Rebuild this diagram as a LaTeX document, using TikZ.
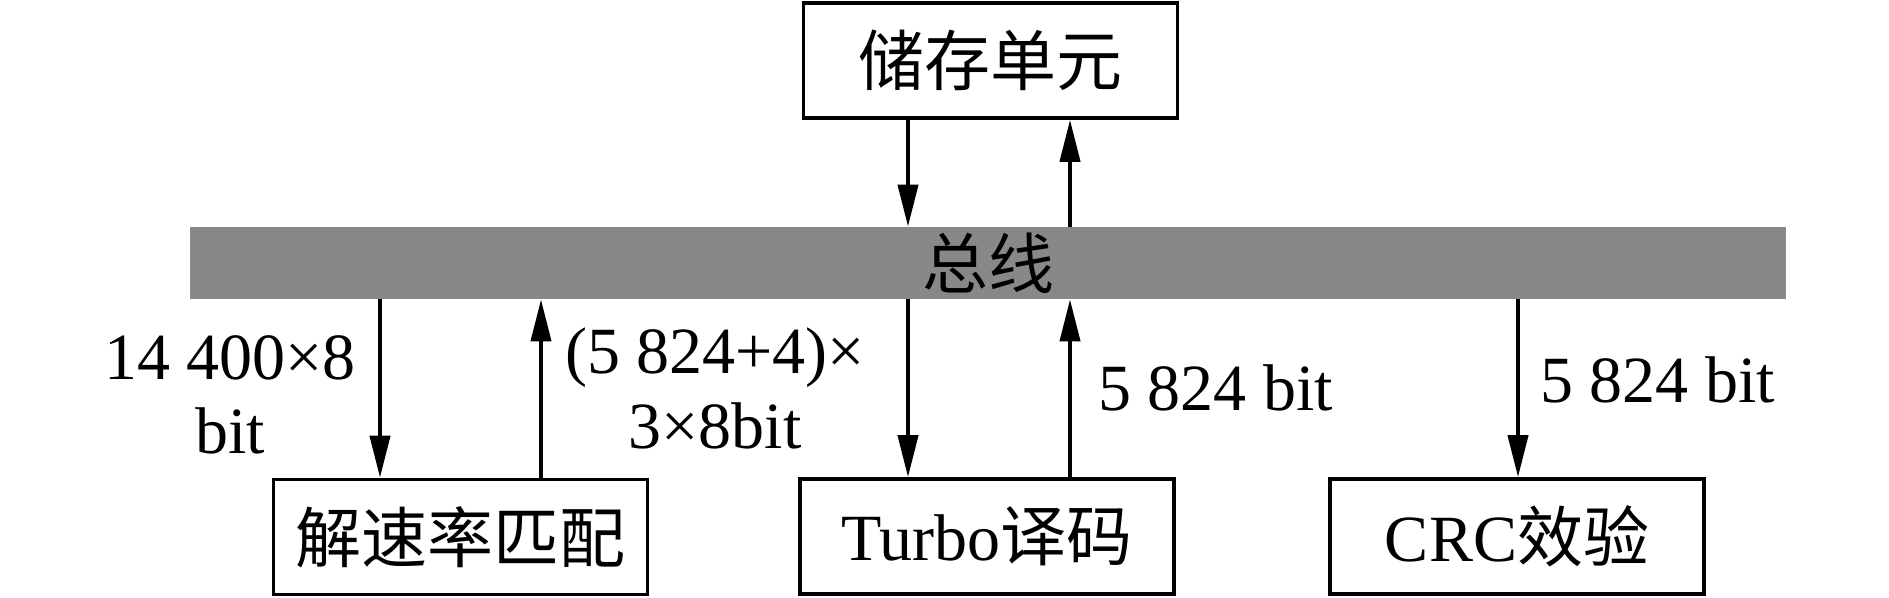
\documentclass[tikz,border=0pt]{standalone}
\usepackage{fontspec}
\setmainfont{Liberation Serif}
\newfontfamily\cjk{Noto Sans CJK SC}
\usetikzlibrary{arrows.meta}
\definecolor{busgray}{RGB}{136,136,136}
\begin{document}
\begin{tikzpicture}[x=0.5pt,y=-0.5pt,
  blockbox/.style={draw,line width=1.8pt,minimum width=187pt,minimum height=57.5pt,inner sep=0pt,font=\fontsize{33pt}{37pt}\selectfont},
  busbar/.style={fill=busgray,draw=none,minimum width=798pt,minimum height=36pt,inner sep=0pt,font=\fontsize{33pt}{37pt}\selectfont\cjk},
  flow/.style={line width=2pt,-{Triangle[length=21pt,width=10pt]}},
  lbl/.style={inner sep=0pt,align=center,font=\fontsize{33pt}{37pt}\selectfont}]
\useasboundingbox (0,0) rectangle (1889,598);
% nodes
\node[blockbox] (store) at (990.5,60.5) {\cjk 储存单元};
\node[busbar] (bus) at (988,263) {总线};
\node[blockbox] (rate) at (460.5,537) {\cjk 解速率匹配};
\node[blockbox] (turbo) at (987,536.5) {Turbo{\cjk 译码}};
\node[blockbox] (crc) at (1517,536.5) {CRC{\cjk 效验}};
% x positions of connectors
\coordinate (xs1) at (908,0);
\coordinate (xs2) at (1070,0);
\coordinate (xr1) at (380,0);
\coordinate (xr2) at (541,0);
\coordinate (xc1) at (1518,0);
% connectors
\draw[flow] (store.south -| xs1) -- (bus.north -| xs1);
\draw[flow] (bus.north -| xs2) -- (store.south -| xs2);
\draw[flow] (bus.south -| xr1) -- (rate.north -| xr1);
\draw[flow] (rate.north -| xr2) -- (bus.south -| xr2);
\draw[flow] (bus.south -| xs1) -- (turbo.north -| xs1);
\draw[flow] (turbo.north -| xs2) -- (bus.south -| xs2);
\draw[flow] (bus.south -| xc1) -- (crc.north -| xc1);
% labels (base anchor = baseline of last line)
\node[lbl,anchor=base] (l1) at (230,453) {14 400×8\\bit};
\node[lbl,anchor=base] (l2) at (715,448) {(5 824+4)×\\3×8bit};
\node[lbl,anchor=base west] (l3) at (1098,410) {5 824 bit};
\node[lbl,anchor=base west] (l4) at (1540,402) {5 824 bit};
\end{tikzpicture}
\end{document}
